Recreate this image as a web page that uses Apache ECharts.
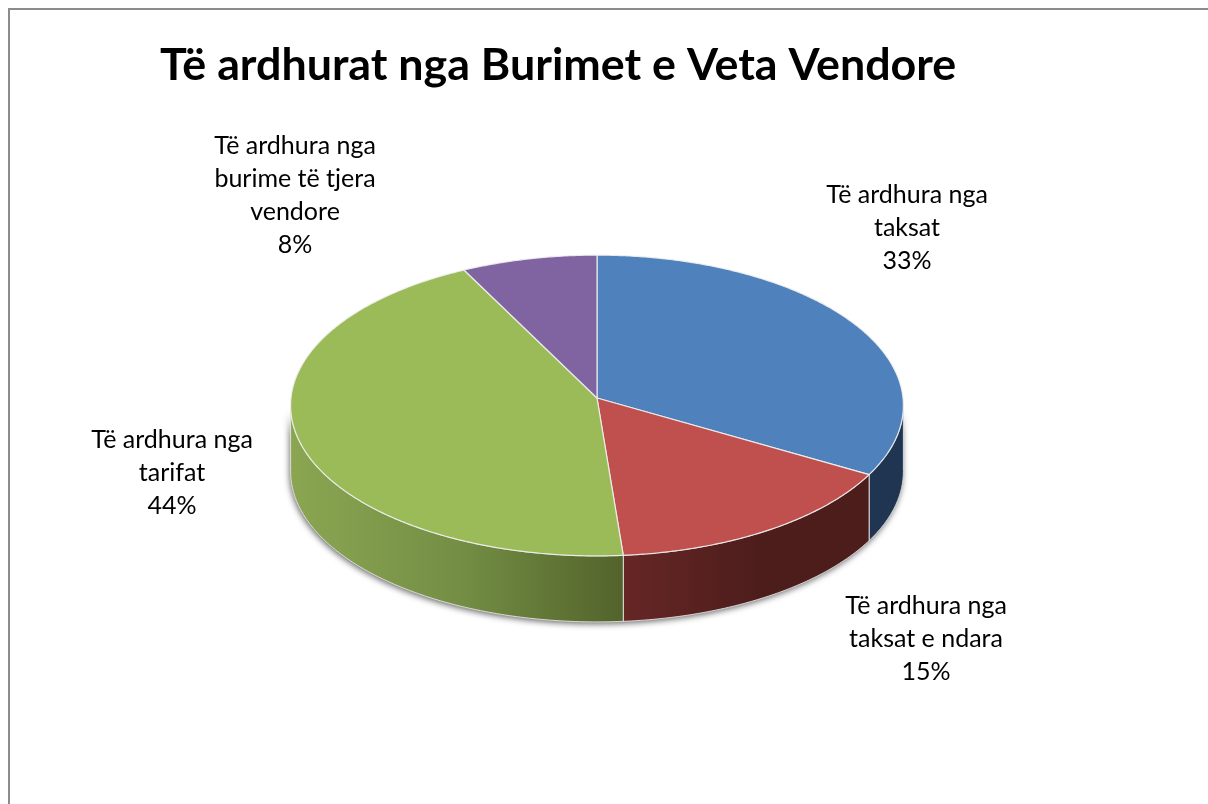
<!DOCTYPE html>
<html>
<head>
<meta charset="utf-8">
<title>Të ardhurat nga Burimet e Veta Vendore</title>
<script src="https://cdn.jsdelivr.net/npm/echarts@6/dist/echarts.min.js"></script>
<style>
	html, body { margin: 0; padding: 0; background: #fff; }
	#chart { width: 1208px; height: 804px; }
</style>
</head>
<body>
<div id="chart"></div>
<script>
	var chartTitle = 'Të ardhurat nga Burimet e Veta Vendore';
	var categories = ['Të ardhura nga\ntaksat', 'Të ardhura nga\ntaksat e ndara', 'Të ardhura nga\ntarifat', 'Të ardhura nga\nburime të tjera\nvendore'];
	var shares = [33.3, 15.4, 43.8, 7.5];

	var topColors = ['#4f81bd', '#c0504d', '#9bbb59', '#8064a2'];
	//side wall gradient, left to right
	var wallColors = [
		[[0, '#1f3551'], [1, '#1f3551']],
		[[0, '#662725'], [0.55, '#4d1d1c'], [1, '#4d1d1c']],
		[[0, '#8ba651'], [0.5, '#748f45'], [1, '#53632b']],
		[[0, '#4c3b61'], [1, '#4c3b61']]
	];
	var labelCenters = [[907, 228], [926, 639], [172, 473], [295, 195]];

	//pie projection: the disc is tilted, front edge is a bit larger than the back
	var pieX = 597, pieY = 398, radiusX = 306, radiusY = 150, persp = 0.05, depth = 66;
	var wallFrom = 92.9, wallTo = 267.1;

	function rimPoint(deg, down) {
		var a = deg * Math.PI / 180;
		var u = Math.sin(a), v = -Math.cos(a);
		var w = 1 - persp * v;
		return [pieX + radiusX * u / w, pieY + radiusY * v / w + (down || 0)];
	}

	function rimArc(from, to, down) {
		var pts = [];
		var n = Math.max(2, Math.ceil(Math.abs(to - from) * 2));
		for (var i = 0; i <= n; i++) {
			pts.push(rimPoint(from + (to - from) * i / n, down));
		}
		return pts;
	}

	function wallPoints(from, to) {
		return rimArc(from, to, 0).concat(rimArc(to, from, depth));
	}

	//start and end of each slice in degrees, clockwise from the top
	var total = shares.reduce(function(a, b) { return a + b; }, 0);
	var sliceRows = [];
	var sum = 0;
	for (var i = 0; i < shares.length; i++) {
		sliceRows.push([sum / total * 360, (sum + shares[i]) / total * 360, i, shares[i]]);
		sum += shares[i];
	}

	function renderShadow() {
		return {
			type: 'polygon',
			shape: { points: wallPoints(wallFrom, wallTo) },
			style: {
				fill: '#8a8a8a',
				shadowBlur: 6,
				shadowOffsetX: -1,
				shadowOffsetY: 2,
				shadowColor: 'rgba(0,0,0,0.6)'
			}
		};
	}

	function renderSlice(params, api) {
		var start = api.value(0), end = api.value(1), idx = api.value(2);
		var children = [];

		//side wall, only the front part of the disc shows it
		var from = Math.max(start, wallFrom), to = Math.min(end, wallTo);
		if (to > from) {
			children.push({
				type: 'polygon',
				shape: { points: wallPoints(from, to) },
				style: {
					fill: new echarts.graphic.LinearGradient(0, 0, 1, 0, wallColors[idx].map(function(s) {
						return { offset: s[0], color: s[1] };
					})),
					stroke: 'rgba(235,235,235,0.85)',
					lineWidth: 1
				}
			});
		}

		//top face
		children.push({
			type: 'polygon',
			shape: { points: [[pieX, pieY]].concat(rimArc(start, end, 0)) },
			style: {
				fill: topColors[idx],
				stroke: 'rgba(240,240,240,0.9)',
				lineWidth: 1.2,
				lineJoin: 'round'
			}
		});

		children.push({
			type: 'text',
			z2: 10,
			style: {
				x: labelCenters[idx][0],
				y: labelCenters[idx][1],
				text: categories[idx] + '\n' + Math.round(api.value(3)) + '%',
				fill: '#000',
				font: '25px Lato',
				lineHeight: 33,
				align: 'center',
				verticalAlign: 'middle'
			}
		});

		return { type: 'group', children: children };
	}

	var option = {
		animation: false,
		backgroundColor: '#fff',
		title: {
			text: chartTitle,
			left: 155,
			top: 38,
			textStyle: {
				fontFamily: 'Lato',
				fontSize: 44.8,
				fontWeight: 'bold',
				color: '#000'
			}
		},
		graphic: [{
			type: 'polyline',
			shape: { points: [[9, 810], [9, 9], [1215, 9]] },
			style: { fill: null, stroke: '#8c8c8c', lineWidth: 2 }
		}],
		series: [{
			type: 'custom',
			coordinateSystem: 'none',
			silent: true,
			data: [[0]],
			renderItem: renderShadow
		}, {
			type: 'custom',
			coordinateSystem: 'none',
			silent: true,
			data: sliceRows,
			renderItem: renderSlice
		}]
	};

	echarts.init(document.getElementById('chart')).setOption(option);
</script>
</body>
</html>
